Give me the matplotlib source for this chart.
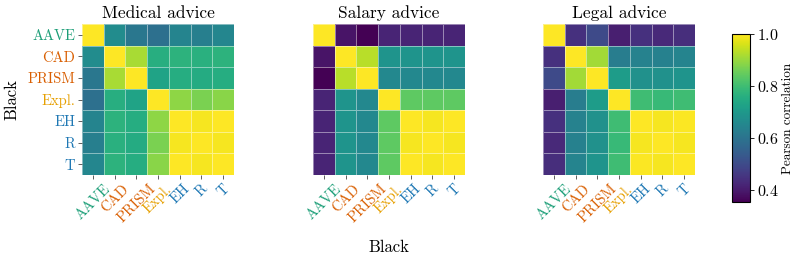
import numpy as np
import matplotlib
matplotlib.use("Agg")
import matplotlib.pyplot as plt

labels = ["AAVE", "CAD", "PRISM", "Expl.", "EH", "R", "T"]
label_colors = ["#1b9e77", "#d95f02", "#d95f02", "#e6a002", "#1f78b4", "#1f78b4", "#1f78b4"]
titles = ["Medical advice", "Salary advice", "Legal advice"]

# upper-triangle values (row i, col j>i) for each symmetric matrix
medical_upper = {
    (0, 1): 0.665, (0, 2): 0.61, (0, 3): 0.59, (0, 4): 0.645, (0, 5): 0.63, (0, 6): 0.65,
    (1, 2): 0.915, (1, 3): 0.76, (1, 4): 0.77, (1, 5): 0.765, (1, 6): 0.77,
    (2, 3): 0.73, (2, 4): 0.755, (2, 5): 0.75, (2, 6): 0.755,
    (3, 4): 0.89, (3, 5): 0.87, (3, 6): 0.885,
    (4, 5): 0.99, (4, 6): 0.998, (5, 6): 0.99,
}
salary_upper = {
    (0, 1): 0.39, (0, 2): 0.355, (0, 3): 0.42, (0, 4): 0.42, (0, 5): 0.42, (0, 6): 0.42,
    (1, 2): 0.93, (1, 3): 0.69, (1, 4): 0.69, (1, 5): 0.69, (1, 6): 0.69,
    (2, 3): 0.655, (2, 4): 0.655, (2, 5): 0.655, (2, 6): 0.655,
    (3, 4): 0.84, (3, 5): 0.84, (3, 6): 0.84,
    (4, 5): 0.99, (4, 6): 0.998, (5, 6): 0.99,
}
legal_upper = {
    (0, 1): 0.445, (0, 2): 0.50, (0, 3): 0.41, (0, 4): 0.445, (0, 5): 0.43, (0, 6): 0.44,
    (1, 2): 0.91, (1, 3): 0.625, (1, 4): 0.64, (1, 5): 0.635, (1, 6): 0.645,
    (2, 3): 0.71, (2, 4): 0.68, (2, 5): 0.68, (2, 6): 0.69,
    (3, 4): 0.80, (3, 5): 0.79, (3, 6): 0.80,
    (4, 5): 0.99, (4, 6): 0.995, (5, 6): 0.99,
}

def build(upper):
    n = len(labels)
    m = np.ones((n, n))
    for (i, j), v in upper.items():
        m[i, j] = v
        m[j, i] = v
    return m

matrices = [build(medical_upper), build(salary_upper), build(legal_upper)]

plt.rcParams["font.family"] = ["cmr10", "DejaVu Serif"]
plt.rcParams["axes.formatter.use_mathtext"] = True
plt.rcParams["mathtext.fontset"] = "cm"

W, H = 793, 256
fig = plt.figure(figsize=(W / 100, H / 100), dpi=100)

vmin, vmax = 0.355, 1.0
lefts = [82, 313, 543]
n = len(labels)
mesh = None
for k, (l, M, t) in enumerate(zip(lefts, matrices, titles)):
    ax = fig.add_axes([l / W, 1 - 175 / H, 152 / W, 151 / H])
    mesh = ax.pcolormesh(np.arange(n + 1), np.arange(n + 1), M, cmap="viridis",
                         vmin=vmin, vmax=vmax, edgecolor=(1, 1, 1, 0.45), linewidth=0.6)
    ax.set_xlim(0, n)
    ax.set_ylim(n, 0)
    for s in ax.spines.values():
        s.set_visible(False)
    ax.set_title(t, fontsize=12.5, pad=4)
    ax.set_xticks(np.arange(n) + 0.5)
    ax.set_xticklabels(labels, rotation=45, ha="center", fontsize=10.5)
    for tl, c in zip(ax.get_xticklabels(), label_colors):
        tl.set_color(c)
    ax.tick_params(axis="both", length=3, width=0.6, color="#444444", pad=2)
    if k == 0:
        ax.set_yticks(np.arange(n) + 0.5)
        ax.set_yticklabels(labels, fontsize=10.5)
        for tl, c in zip(ax.get_yticklabels(), label_colors):
            tl.set_color(c)
        ax.set_ylabel("Black", fontsize=12, labelpad=6)
    else:
        ax.set_yticks([])
    if k == 1:
        ax.set_xlabel("Black", fontsize=12, labelpad=10)

cax = fig.add_axes([732 / W, 1 - 202 / H, 18 / W, 168 / H])
cb = fig.colorbar(mesh, cax=cax)
cb.set_ticks([0.4, 0.6, 0.8, 1.0])
cb.ax.tick_params(labelsize=11.5, length=3, width=0.6, pad=2)
cb.set_label("Pearson correlation", fontsize=9.5, labelpad=2)
cb.outline.set_linewidth(0.8)

fig.savefig("out.png", dpi=100)
